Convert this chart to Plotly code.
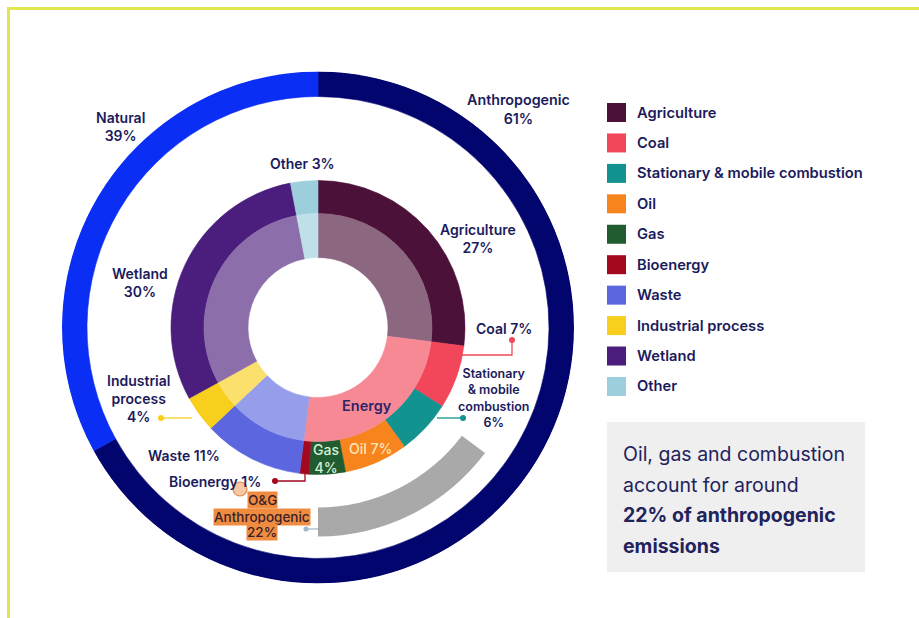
import plotly.graph_objects as go

# ---------------- data ----------------
categories = ["Agriculture", "Coal", "Stationary & mobile combustion", "Oil", "Gas",
              "Bioenergy", "Waste", "Industrial process", "Wetland", "Other"]
shares = [27, 7, 6, 7, 4, 1, 11, 4, 30, 3]
cat_colors = ["#4b1139", "#f2475a", "#12938f", "#f7841c", "#215b30",
              "#a3081f", "#5b66df", "#f9cf1d", "#4b1d7c", "#9ccedc"]
inner_group = ["Agriculture", "Energy", "Energy", "Energy", "Energy",
               "Energy", "Waste", "Industrial process", "Wetland", "Other"]
source_of = ["Anthropogenic"] * 8 + ["Natural"] * 2
source_names = ["Anthropogenic", "Natural"]
source_reported = ["61%", "39%"]
source_colors = ["#03056f", "#0b2ef4"]
og_share_of_anthropogenic = 22

# ---------------- geometry ----------------
W, H = 919, 618
CX, CY = 318, 327.5
R = 256
NAVY = "#1b1b5c"
FONT = "Inter"


def px(x):
    return x / W


def py(y):
    return 1 - y / H


def blend(hexc, f):
    h = hexc.lstrip("#")
    r, g, b = (int(h[i:i + 2], 16) for i in (0, 2, 4))
    r, g, b = (round(c + (255 - c) * f) for c in (r, g, b))
    return "#%02x%02x%02x" % (r, g, b)


def ring(values, colors, r0, r1, start=0.0):
    thetas, widths = [], []
    acc = start
    for v in values:
        w = v * 3.6
        thetas.append(acc + w / 2)
        widths.append(w)
        acc += w
    return go.Barpolar(theta=thetas, width=widths, r=[r1 - r0] * len(values),
                       base=[r0] * len(values),
                       marker=dict(color=colors, line=dict(color=colors, width=0.6)),
                       hoverinfo="skip", showlegend=False)


# inner groups (order preserving)
groups, gvals, gcols = [], [], []
for c, v, g, col in zip(categories, shares, inner_group, cat_colors):
    if g not in groups:
        groups.append(g)
        gvals.append(0)
        gcols.append(blend(col, 0.36))
    gvals[groups.index(g)] += v

# outer sources
svals = [sum(v for v, s in zip(shares, source_of) if s == n) for n in source_names]

fig = go.Figure()
fig.add_trace(ring(svals, source_colors, 231, 256))
fig.add_trace(ring(shares, cat_colors, 114, 147))
fig.add_trace(ring(gvals, gcols, 70, 114))

# O&G arc: 22% of the anthropogenic arc, ending at the bottom of the ring
anth_span = svals[0] * 3.6
og_w = og_share_of_anthropogenic / 100 * anth_span
fig.add_trace(go.Barpolar(theta=[180 - og_w / 2], width=[og_w], r=[29], base=[180],
                          marker=dict(color="#a9a9a9", line=dict(width=0)),
                          hoverinfo="skip", showlegend=False))

ann = []
shapes = []


def label(text, x, y, size=14, color=NAVY, weight=600, align="center", xanchor="center", bg=None):
    d = dict(text=text, x=px(x), y=py(y), xref="paper", yref="paper", showarrow=False,
             font=dict(family=FONT, size=size, color=color, weight=weight),
             align=align, xanchor=xanchor, yanchor="middle")
    if bg:
        d.update(bgcolor=bg, borderpad=0)
    ann.append(d)


def polyline(pts, color, width=1.3):
    path = "M " + " L ".join(f"{px(x)},{py(y)}" for x, y in pts)
    shapes.append(dict(type="path", path=path, xref="paper", yref="paper",
                       line=dict(color=color, width=width)))


def dot(x, y, color, r=3):
    shapes.append(dict(type="circle", xref="paper", yref="paper",
                       x0=px(x - r), x1=px(x + r), y0=py(y + r), y1=py(y - r),
                       fillcolor=color, line=dict(color=color, width=0)))


label("Natural<br>39%", 120, 126)
label("Anthropogenic<br>" + source_reported[0], 518, 109, size=14.3)
label("Other 3%", 302, 164)
label("Agriculture<br>27%", 478, 238)
label("Coal 7%", 504, 328)
label("Stationary<br>&amp; mobile<br>combustion<br>6%", 493, 398, size=12.5)
label("Energy", 367, 405, size=14.5, color="#2e2466")
label("Gas<br>4%", 326, 458, size=14, color="#d6f0d6", weight=500)
label("Oil 7%", 370, 448, size=14, color="#ffe6b8", weight=500)
label("Wetland<br>30%", 140, 282)
label("Industrial<br>process<br>4%", 138, 398)
label("Waste 11%", 184, 455)
label("Bioenergy 1%", 215, 481)

# small cursor mark
shapes.append(dict(type="circle", xref="paper", yref="paper",
                   x0=px(233), x1=px(247), y0=py(496), y1=py(482),
                   fillcolor="#f6c9a4", line=dict(color="#e08a50", width=1.2)))
for t, yy in [("O&amp;G", 500), ("Anthropogenic", 516.5), ("22%", 532)]:
    label(t, 262, yy, size=13.5, color="#3a1f2a", weight=500, bg="#f08c40")

polyline([(436, 355), (512, 355), (512, 340)], "#f2475a")
dot(512, 340, "#f2475a")
polyline([(437, 418), (463, 418)], "#12938f")
dot(463, 418, "#12938f")
polyline([(161, 418), (192, 418)], "#f9cf1d")
dot(161, 418, "#f9cf1d")
polyline([(275, 481), (305, 481), (305, 470)], "#a3081f")
dot(275, 481, "#a3081f")
polyline([(306, 529), (320, 529)], "#8fa3b8", 1)
dot(306, 529, "#9fb6cc", 2.5)

# legend
for i, (c, col) in enumerate(zip(categories, cat_colors)):
    yc = 112.5 + i * 30.44
    shapes.append(dict(type="rect", xref="paper", yref="paper",
                       x0=px(607), x1=px(626), y0=py(yc + 9.5), y1=py(yc - 9.5),
                       fillcolor=col, line=dict(width=0)))
    label(c.replace("&", "&amp;"), 635, yc, size=14.7, xanchor="left", align="left")

# text box
shapes.append(dict(type="rect", xref="paper", yref="paper", layer="below",
                   x0=px(607), x1=px(865), y0=py(572), y1=py(422),
                   fillcolor="#efefef", line=dict(width=0)))
box_lines = [("Oil, gas and combustion", 400), ("account for around", 400),
             ("22% of anthropogenic", 700), ("emissions", 700)]
for i, (t, wgt) in enumerate(box_lines):
    label(t, 621, 454 + i * 30.7, size=19.5, color="#22225c", weight=wgt,
          xanchor="left", align="left")

# frame
shapes.append(dict(type="rect", xref="paper", yref="paper",
                   x0=px(8.5), x1=px(960), y0=py(660), y1=py(8.5),
                   line=dict(color="#e3e64c", width=3)))

fig.update_layout(
    width=W, height=H, margin=dict(l=0, r=0, t=0, b=0),
    paper_bgcolor="white", plot_bgcolor="white", showlegend=False,
    polar=dict(domain=dict(x=[px(CX - R), px(CX + R)], y=[py(CY + R), py(CY - R)]),
               bgcolor="rgba(0,0,0,0)", hole=0, bargap=0, barmode="overlay",
               radialaxis=dict(range=[0, R], visible=False),
               angularaxis=dict(direction="clockwise", rotation=90, visible=False)),
    annotations=ann, shapes=shapes,
)
fig.write_html("out.html")
